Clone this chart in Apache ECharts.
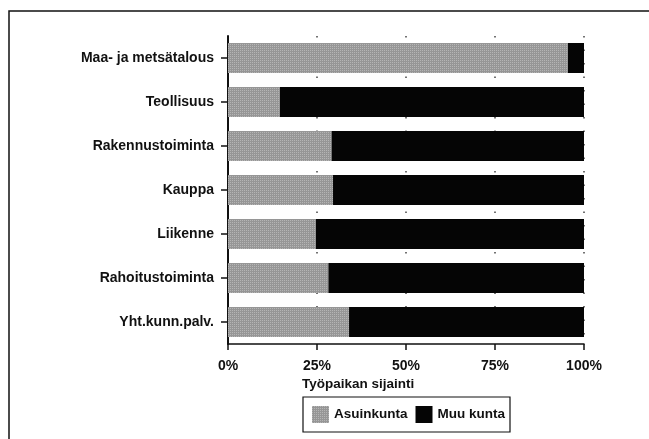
<!DOCTYPE html>
<html lang="fi">
<head>
    <meta charset="UTF-8">
    <title>Työpaikan sijainti</title>
    <script src="https://cdn.jsdelivr.net/npm/echarts@6/dist/echarts.min.js"></script>
</head>
<body style="margin:0;background:#fff;">
<div id="main" style="width: 649px;height:439px;"></div>
<script>
    // toimialat ylhäältä alas
    var categories = ['Maa- ja metsätalous', 'Teollisuus', 'Rakennustoiminta', 'Kauppa',
        'Liikenne', 'Rahoitustoiminta', 'Yht.kunn.palv.'];
    var asuinkunta = [95.5, 14.6, 29.1, 29.5, 24.7, 28.2, 34.0];
    var muuKunta = [4.5, 85.4, 70.9, 70.5, 75.3, 71.8, 66.0];
    var xTicks = [0, 25, 50, 75, 100];

    var font = 'Liberation Sans';
    var myChart = echarts.init(document.getElementById('main'));

    myChart.setOption({
        animation: false,
        textStyle: {fontFamily: font, color: '#111'},
        graphic: [{
            type: 'rect',
            shape: {x: 9, y: 11, width: 700, height: 500},
            style: {fill: 'none', stroke: '#111', lineWidth: 1.5},
            silent: true
        }],
        grid: {left: 228, right: 65, top: 36, bottom: 95},
        legend: {
            left: 303,
            top: 397,
            padding: [9, 5, 9, 9],
            borderColor: '#111',
            borderWidth: 1.2,
            icon: 'rect',
            itemWidth: 17,
            itemHeight: 17,
            itemGap: 8,
            textStyle: {fontFamily: font, fontSize: 13.5, fontWeight: 'bold', color: '#111'},
            data: ['Asuinkunta', 'Muu kunta']
        },
        xAxis: {
            type: 'value',
            min: 0,
            max: 100,
            interval: 25,
            name: 'Työpaikan sijainti',
            nameLocation: 'start',
            nameGap: 0,
            nameTextStyle: {fontFamily: font, fontSize: 13.5, fontWeight: 'bold', color: '#111',
                align: 'left', verticalAlign: 'top', padding: [33, 0, 0, 74]},
            axisLine: {show: true, lineStyle: {color: '#111', width: 1.5}},
            axisTick: {show: true, length: 6, lineStyle: {color: '#111', width: 1.5}},
            axisLabel: {
                fontFamily: font, fontSize: 14, fontWeight: 'bold', color: '#111', margin: 15,
                formatter: function (v) { return xTicks.indexOf(v) >= 0 ? v + '%' : ''; }
            },
            splitLine: {show: true, lineStyle: {color: '#444', type: [1.5, 12], width: 1.5}}
        },
        yAxis: {
            type: 'category',
            inverse: true,
            data: categories,
            axisLine: {show: true, lineStyle: {color: '#111', width: 2}},
            axisTick: {show: true, length: 7, alignWithLabel: true, lineStyle: {color: '#111', width: 1.5}},
            axisLabel: {fontFamily: font, fontSize: 14, fontWeight: 'bold', color: '#111', margin: 14}
        },
        series: [
            {
                name: 'Asuinkunta',
                type: 'bar',
                stack: 'total',
                barWidth: 30,
                data: asuinkunta,
                itemStyle: {
                    color: '#969696',
                    decal: {symbol: 'rect', symbolSize: 1, dashArrayX: [1, 1], dashArrayY: [1, 1],
                        color: 'rgba(255,255,255,0.3)', rotation: 0}
                }
            },
            {
                name: 'Muu kunta',
                type: 'bar',
                stack: 'total',
                barWidth: 30,
                data: muuKunta,
                itemStyle: {color: '#050505'}
            }
        ]
    });
</script>
</body>
</html>
